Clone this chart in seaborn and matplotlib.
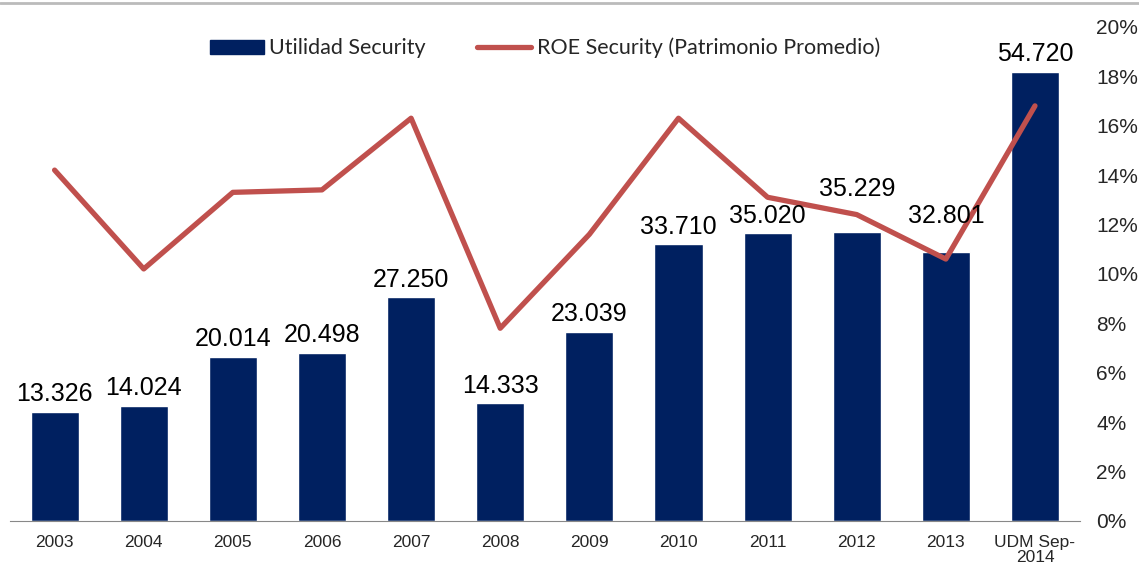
import numpy as np
import pandas as pd
import matplotlib
matplotlib.use("Agg")
import matplotlib.pyplot as plt
import matplotlib.lines as mlines
import matplotlib.patches as mpatches
from matplotlib.ticker import FuncFormatter, FixedLocator
import seaborn as sns

# data
periods = ["2003", "2004", "2005", "2006", "2007", "2008", "2009",
           "2010", "2011", "2012", "2013", "UDM Sep-\n2014"]
utilidad = [13.326, 14.024, 20.014, 20.498, 27.250, 14.333, 23.039,
            33.710, 35.020, 35.229, 32.801, 54.720]
roe = [14.2, 10.2, 13.3, 13.4, 16.3, 7.8, 11.6, 16.3, 13.1, 12.4, 10.6, 16.8]
# label nudge (points) where the label sits higher above its bar
label_lift = [0, 0, 0, 0, 0, 0, 0, 0, 0, 18, 13, 0]

df = pd.DataFrame({"periodo": periods, "utilidad": utilidad, "roe": roe})
df["pos"] = np.arange(len(df))

sns.set_style("white")
plt.rcParams["font.family"] = ["Liberation Sans", "DejaVu Sans"]

bar_color = "#002060"
line_color = "#C0504D"

fig = plt.figure(figsize=(11.39, 5.70), dpi=100)
ax = fig.add_axes([0.0088, 0.086, 0.939, 0.867])

sns.barplot(data=df, x="pos", y="utilidad", color=bar_color, width=0.54,
            saturation=1, ax=ax, native_scale=True)
ax.set_xlim(-0.5, 11.5)
ax.set_ylim(0, 60.2)
ax.set_yticks([])
ax.set_ylabel("")
ax.set_xlabel("")

ax.xaxis.set_major_locator(FixedLocator(df["pos"]))
ax.set_xticklabels(periods, fontsize=12.5, linespacing=1.0)
ax.tick_params(axis="x", which="major", length=0, pad=10)
ax.xaxis.set_minor_locator(FixedLocator(np.arange(-0.5, 12, 1)))
ax.tick_params(axis="x", which="minor", length=8, color="#888888", width=1)

for s in ["top", "right", "left"]:
    ax.spines[s].set_visible(False)
ax.spines["bottom"].set_color("#888888")

ax2 = ax.twinx()
sns.lineplot(data=df, x="pos", y="roe", color=line_color, linewidth=3.8,
             ax=ax2)
ax2.set_ylim(0, 20)
ax2.set_yticks(range(0, 21, 2))
ax2.yaxis.set_major_formatter(FuncFormatter(lambda v, p: f"{v:.0f}%"))
ax2.tick_params(axis="y", length=0, labelsize=15, pad=12)
ax2.set_ylabel("")
for s in ["top", "right", "left", "bottom"]:
    ax2.spines[s].set_visible(False)

# value labels drawn on the upper axes so they sit over the ROE line
for i, v in enumerate(utilidad):
    ax2.annotate(f"{v:.3f}", (i, v), xycoords=ax.transData,
                 xytext=(0, 4 + label_lift[i]), textcoords="offset points",
                 ha="center", va="bottom", fontsize=18, color="black")

h_bar = mpatches.Patch(color=bar_color, label="Utilidad Security")
h_line = mlines.Line2D([], [], color=line_color, linewidth=3.8,
                       label="ROE Security (Patrimonio Promedio)")
ax2.legend(handles=[h_bar, h_line], loc="upper center", ncol=2, frameon=False,
           bbox_to_anchor=(0.5, 1.017), prop={"family": "Lato", "size": 15.5},
           handlelength=2.5, handleheight=0.6, handletextpad=0.25,
           columnspacing=2.4)

# thin grey rule along the top edge
fig.add_artist(mlines.Line2D([0, 1], [0.995, 0.995], color="#bbbbbb",
                             linewidth=2, transform=fig.transFigure))

fig.savefig("out.png", dpi=100)
